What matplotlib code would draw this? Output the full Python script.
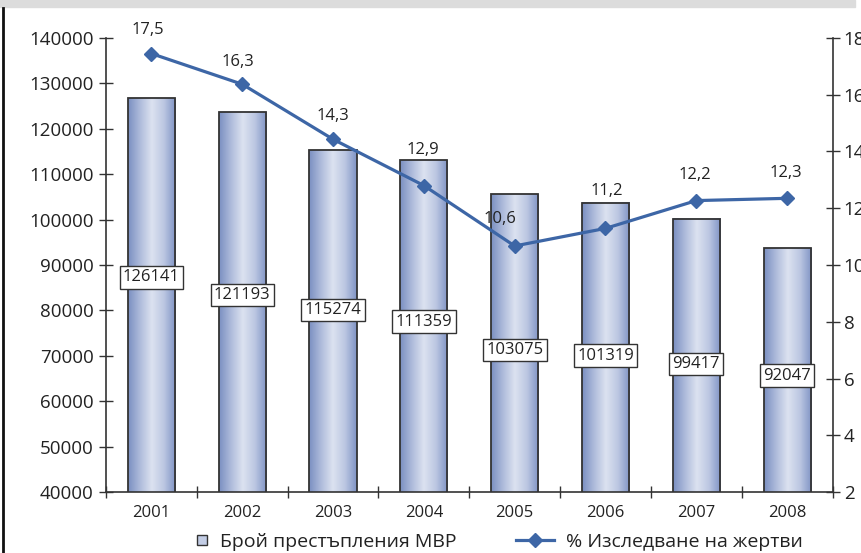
import matplotlib
matplotlib.use("Agg")
import matplotlib.pyplot as plt
import numpy as np
from matplotlib.colors import LinearSegmentedColormap
from matplotlib.lines import Line2D
from matplotlib.patches import Rectangle

plt.rcParams["font.family"] = ["Open Sans", "DejaVu Sans"]

# --- data ---
years = ["2001", "2002", "2003", "2004", "2005", "2006", "2007", "2008"]
crimes = [126700, 123600, 115300, 113100, 105600, 103700, 100200, 93700]
crime_labels = ["126141", "121193", "115274", "111359", "103075", "101319", "99417", "92047"]
crime_label_y = [87300, 83400, 80100, 77500, 71300, 70000, 68200, 65600]
pct = [17.45, 16.37, 14.43, 12.8, 10.67, 11.29, 12.27, 12.35]
pct_labels = ["17,5", "16,3", "14,3", "12,9", "10,6", "11,2", "12,2", "12,3"]
pct_label_off = [(-4, 24), (-4, 22), (0, 23), (-1, 36), (-15, 27), (1, 37), (-1, 26), (-1, 25)]

YMIN, YMAX = 40000, 140000
LINE = "#3d66a6"
bar_cmap = LinearSegmentedColormap.from_list(
    "bar", ["#7a8fc1", "#aebbdb", "#dce2f0", "#bcc7e2", "#7f93c4"])

fig = plt.figure(figsize=(8.62, 5.53), dpi=100)
ax = fig.add_axes([0.123, 0.1103, 0.8428, 0.821])
x = np.arange(len(years))

bars = ax.bar(x, crimes, width=0.52, color="none",
              edgecolor="#333333", linewidth=1.3, zorder=3)
grad = np.linspace(0, 1, 256).reshape(1, -1)
for b in bars:
    x0, w, h = b.get_x(), b.get_width(), b.get_height()
    ax.imshow(grad, cmap=bar_cmap, aspect="auto", zorder=2,
              extent=[x0, x0 + w, YMIN, h], interpolation="bilinear")

ax.set_xlim(-0.5, len(years) - 0.5)
ax.set_ylim(YMIN, YMAX)
ax.set_yticks(np.arange(YMIN, YMAX + 1, 10000))
ax.set_xticks(x)
ax.set_xticklabels(years, fontsize=12, color="#222222")
ax.set_xticks(np.arange(-0.5, len(years), 1), minor=True)
ax.tick_params(axis="x", which="major", length=0, pad=9)
ax.tick_params(axis="x", which="minor", direction="inout", length=8, width=1, color="#333333")
ax.tick_params(axis="y", direction="inout", length=10, width=1, color="#333333",
               labelsize=13.5, labelcolor="#222222", pad=4)
for s in ["top", "right"]:
    ax.spines[s].set_visible(False)
for s in ["left", "bottom"]:
    ax.spines[s].set_color("#333333")
    ax.spines[s].set_linewidth(1.2)

for xi, lab, ly in zip(x, crime_labels, crime_label_y):
    ax.text(xi, ly, lab, ha="center", va="center", fontsize=12, color="#222222", zorder=5,
            bbox=dict(boxstyle="square,pad=0.2", fc="white", ec="#333333", lw=1))

ax2 = ax.twinx()
ax2.set_ylim(2, 18)
ax2.set_yticks(np.arange(2, 19, 2))
ax2.plot(x, pct, color=LINE, lw=2.3, marker="D", ms=7.5, zorder=6)
for xi, v, lab, off in zip(x, pct, pct_labels, pct_label_off):
    ax2.annotate(lab, (xi, v), xytext=off, textcoords="offset pixels",
                 ha="center", va="center", fontsize=12, color="#222222")
ax2.tick_params(axis="y", direction="inout", length=10, width=1, color="#333333",
                labelsize=13.5, labelcolor="#222222", pad=3)
for s in ["top", "left", "bottom"]:
    ax2.spines[s].set_visible(False)
ax2.spines["right"].set_color("#333333")
ax2.spines["right"].set_linewidth(1.2)

# decorations: grey band on top and black rule on the left
fig.patches.append(Rectangle((0, 1 - 7 / 553), 855 / 862, 7 / 553,
                             transform=fig.transFigure, color="#dcdcdc", zorder=0))
fig.lines.append(Line2D([3 / 862, 3 / 862], [0, 1 - 8 / 553], transform=fig.transFigure,
                        color="#111111", lw=2))

h1 = Line2D([], [], marker="s", ls="none", ms=7, mfc="#c3cde5", mec="#333333", mew=1)
h2 = Line2D([], [], color=LINE, lw=2.3, marker="D", ms=7)
fig.legend([h1], ["Брой престъпления МВР"], loc="center left", frameon=False,
           bbox_to_anchor=(177 / 862, 1 - 542 / 553), fontsize=14,
           handlelength=0.8, handletextpad=0.5, labelcolor="#222222")
fig.legend([h2], ["% Изследване на жертви"], loc="center left", frameon=False,
           bbox_to_anchor=(498 / 862, 1 - 542 / 553), fontsize=14,
           handlelength=2.0, handletextpad=0.6, labelcolor="#222222")

fig.savefig("out.png", dpi=100)
